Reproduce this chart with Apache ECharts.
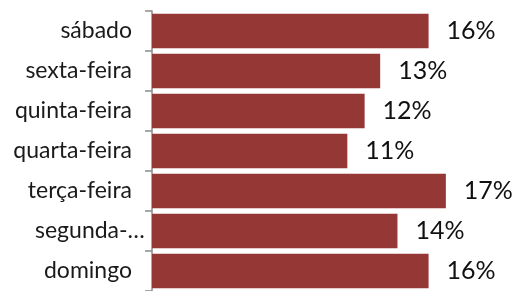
<!DOCTYPE html>
<html>
<head>
<meta charset="utf-8">
<script src="https://cdn.jsdelivr.net/npm/echarts@6/dist/echarts.min.js"></script>
<style>
	html, body { margin: 0; padding: 0; background: #fff; }
	#chart { width: 515px; height: 291px; }
</style>
</head>
<body>
<div id="chart"></div>
<script>
var days = [ 'sábado', 'sexta-feira', 'quinta-feira', 'quarta-feira', 'terça-feira', 'segunda-…', 'domingo' ];
var shares = [ 16.0, 13.2, 12.3, 11.3, 17.0, 14.2, 16.0 ];

var chart = echarts.init( document.getElementById( 'chart' ) );
chart.setOption( {
	animation: false,
	grid: {
		left: 152,
		top: 11,
		width: 363,
		height: 284
	},
	xAxis: {
		type: 'value',
		min: 0,
		max: 21,
		show: false
	},
	yAxis: {
		type: 'category',
		data: days,
		inverse: true,
		axisLine: {
			show: true,
			lineStyle: { color: '#8c8c8c', width: 1.5 }
		},
		axisTick: {
			show: true,
			inside: false,
			length: 7,
			lineStyle: { color: '#8c8c8c', width: 1.5 }
		},
		axisLabel: {
			margin: 20,
			color: '#1a1a1a',
			fontFamily: 'Lato',
			fontSize: 23,
			formatter: function( v ) {
				// segunda is cut by the axis, so let it run past the margin
				if ( v === 'segunda-…' ) return '{cut|' + v + '}';
				return v;
			},
			rich: {
				cut: {
					width: 97,
					align: 'left',
					fontFamily: 'Lato',
					fontSize: 23,
					color: '#1a1a1a'
				}
			}
		}
	},
	series: [ {
		type: 'bar',
		data: shares,
		barCategoryGap: '14%',
		itemStyle: { color: '#953735' },
		label: {
			show: true,
			position: 'right',
			distance: 18,
			color: '#111',
			fontFamily: 'Lato',
			fontSize: 25,
			formatter: function( p ) {
				return Math.round( p.value ) + '%';
			}
		}
	} ]
} );
</script>
</body>
</html>
